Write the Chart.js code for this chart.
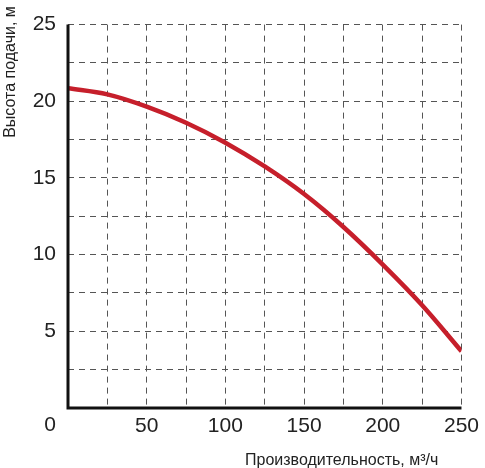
<!DOCTYPE html>
<html><head><meta charset="utf-8">
<script src="https://cdn.jsdelivr.net/npm/chart.js@4"></script>
<style>html,body{margin:0;padding:0;background:#fff}#w{width:485px;height:468px}</style>
</head><body><div id="w"><canvas id="c"></canvas></div>
<script>
const flowX = [0, 25, 50, 75, 100, 125, 150, 175, 200, 225, 250];
const headY = [20.85, 20.45, 19.65, 18.6, 17.3, 15.75, 13.95, 11.8, 9.35, 6.7, 3.7];
const yTitle = 'Высота подачи, м';
const xTitle = 'Производительность, м³/ч';
const labelsPlugin = {
  id: 'labels',
  afterDraw(chart) {
    const ctx = chart.ctx, a = chart.chartArea;
    ctx.save();
    ctx.strokeStyle = '#111'; ctx.lineWidth = 3; ctx.setLineDash([]);
    ctx.beginPath();
    ctx.moveTo(a.left, a.top); ctx.lineTo(a.left, a.bottom); ctx.lineTo(a.right, a.bottom);
    ctx.stroke();
    ctx.fillStyle = '#222';
    ctx.font = '21px "Liberation Sans", Arial, sans-serif';
    ctx.textAlign = 'center'; ctx.textBaseline = 'middle';
    ctx.fillText('0', 50, 425);
    ctx.font = '16px "Liberation Sans", Arial, sans-serif';
    ctx.textAlign = 'left';
    ctx.fillText(xTitle, 245, 461);
    ctx.translate(11, 72);
    ctx.rotate(-Math.PI / 2);
    ctx.textAlign = 'center';
    ctx.fillText(yTitle, 0, 0);
    ctx.restore();
  }
};
new Chart(document.getElementById('c'), {
  type: 'line',
  data: { datasets: [{ data: flowX.map((x, i) => ({ x, y: headY[i] })), borderColor: '#c61f2b', borderWidth: 4.5, pointRadius: 0, cubicInterpolationMode: 'monotone' }] },
  options: {
    responsive: true, maintainAspectRatio: false, animation: false,
    layout: { padding: { top: 16, right: 20, left: 0, bottom: 0 } },
    plugins: { legend: { display: false }, tooltip: { enabled: false } },
    scales: {
      x: {
        type: 'linear', min: 0, max: 250,
        afterFit(s) { s.height = 60; },
        ticks: { stepSize: 25, color: '#222', font: { size: 21, family: '"Liberation Sans", Arial' }, padding: 6, maxRotation: 0,
          callback: v => (v % 50 === 0 && v !== 0) ? v : '' },
        grid: { color: '#555', lineWidth: 1, drawTicks: false },
        border: { display: false, dash: [6, 5] }
      },
      y: {
        min: 0, max: 25,
        afterFit(s) { s.width = 68; },
        ticks: { stepSize: 2.5, color: '#222', font: { size: 21, family: '"Liberation Sans", Arial' }, padding: 12,
          callback: v => (v % 5 === 0 && v !== 0) ? v : '' },
        grid: { color: '#555', lineWidth: 1, drawTicks: false },
        border: { display: false, dash: [6, 5] }
      }
    }
  },
  plugins: [labelsPlugin]
});
</script></body></html>
